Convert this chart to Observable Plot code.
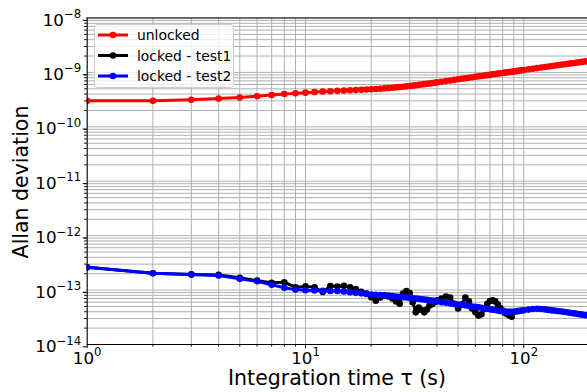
<!DOCTYPE html>
<html><head><meta charset="utf-8">
<script src="https://cdn.jsdelivr.net/npm/d3@7"></script>
<script src="https://cdn.jsdelivr.net/npm/@observablehq/plot@0.6"></script>
<style>
html,body{margin:0;padding:0;background:#fff;}
#chart{width:587px;height:392px;}
</style></head><body><div id="chart"></div>
<script>
// ---- data ----
const seriesNames = ["unlocked", "locked - test1", "locked - test2"];
const seriesColors = ["#ff0000", "#000000", "#0000ff"];

const tau = [1,2,3,4,5,6,7,8,9,10,11,12,13,14,15,16,17,18,19,20,21,22,23,24,25,26,27,28,29,30,31,32,33,34,35,36,37,38,39,40,
  42,44,46,48,50,52,54,56,58,60,62,64,66,68,70,72,74,76,78,80,82,84,86,88,90,92,94,96,98,100,
  105,110,115,120,125,130,135,140,145,150,155,160,165,170,175,180,185,190,195];

// unlocked, in units of 1e-10
const unlocked = [3.0,3.0,3.15,3.3,3.45,3.65,3.85,4.0,4.12,4.25,
  4.35,4.45,4.52,4.58,4.63,4.68,4.73,4.78,4.84,4.9,
  4.96,5.02,5.08,5.15,5.22,5.3,5.38,5.46,5.55,5.64,
  5.73,5.82,5.91,6.0,6.09,6.18,6.27,6.36,6.45,6.55,
  6.75,6.93,7.11,7.29,7.47,7.64,7.81,7.98,8.14,8.3,
  8.46,8.61,8.76,8.91,9.06,9.21,9.35,9.49,9.63,9.77,
  9.91,10.05,10.18,10.31,10.44,10.57,10.7,10.83,10.96,11.1,
  11.4,11.7,12.0,12.3,12.58,12.86,13.13,13.4,13.66,13.92,
  14.17,14.42,14.67,14.91,15.15,15.39,15.62,15.85,16.08];

// locked - test2, in units of 1e-14
const test2 = [26.2,20.4,19.3,18.5,16.1,14.5,12.5,11.0,10.2,9.9,
  9.8,9.7,9.6,9.6,9.4,9.1,8.9,8.7,8.5,8.3,
  8.2,8.1,8.0,7.9,7.75,7.6,7.5,7.4,7.3,7.2,
  7.1,7.0,6.9,6.8,6.7,6.6,6.5,6.4,6.3,6.2,
  6.0,5.85,5.7,5.55,5.45,5.35,5.25,5.1,5.0,4.92,
  4.85,4.75,4.65,4.55,4.45,4.37,4.3,4.22,4.15,4.08,
  4.02,3.98,3.97,3.98,4.0,4.05,4.1,4.15,4.2,4.25,
  4.38,4.48,4.52,4.5,4.42,4.32,4.23,4.15,4.08,4.02,
  3.95,3.88,3.8,3.73,3.66,3.6,3.54,3.48,3.43];

const tauTest1 = [1,2,3,4,5,6,7,8,9,10,11,12,13,14,15,16,17,18,19,20,21,22,23,24,25,26,27,28,29,30,31,32,33,34,35,36,37,38,39,40,
  42,44,46,48,50,52,54,56,58,60,62,64,66,68,70,72,74,76,78,80,82,84,86,88];

// locked - test1, in units of 1e-14
const test1 = [26.2,20.4,19.4,19.0,16.8,14.9,13.6,13.9,11.3,11.7,
  11.3,9.2,11.9,11.6,12.0,11.3,10.5,9.3,8.6,7.4,
  6.4,7.3,7.9,7.6,7.0,6.2,5.6,8.6,9.6,8.8,
  6.0,3.9,4.8,4.3,3.9,4.4,5.2,5.5,6.0,6.5,
  7.0,7.6,7.3,5.6,4.6,5.5,7.3,6.2,4.6,3.9,
  3.4,3.6,4.5,5.6,6.3,6.5,6.2,5.5,4.7,4.2,
  3.8,3.6,3.4,3.25];

const xTicks = [1, 10, 100];
const yTicks = [1e-14, 1e-13, 1e-12, 1e-11, 1e-10, 1e-9, 1e-8];
const xLabel = "Integration time τ (s)";
const yLabel = "Allan deviation";

// ---- build tables ----
const rowsUnlocked = tau.map((t, i) => ({tau: t, adev: unlocked[i] * 1e-10}));
const rowsTest2 = tau.map((t, i) => ({tau: t, adev: test2[i] * 1e-14}));
const rowsTest1 = tauTest1.map((t, i) => ({tau: t, adev: test1[i] * 1e-14}));

const xMinor = [];
for (let k = 0; k <= 2; k++) for (let m = 2; m <= 9; m++) { const v = m * 10 ** k; if (v <= 195) xMinor.push(v); }
const yMinor = [];
for (let k = -14; k <= -9; k++) for (let m = 2; m <= 9; m++) yMinor.push(m * 10 ** k);

const fmt = d => "10^" + Math.round(Math.log10(d));
const gridStyle = {stroke: "#b0b0b0", strokeWidth: 1, strokeOpacity: 1};

function series(rows, color) {
  return [
    Plot.line(rows, {x: "tau", y: "adev", stroke: color, strokeWidth: 3, clip: true}),
    Plot.dot(rows, {x: "tau", y: "adev", fill: color, r: 3.3, stroke: "none", clip: true})
  ];
}

const chart = Plot.plot({
  width: 587, height: 392,
  marginLeft: 86.7, marginRight: 0, marginTop: 17.5, marginBottom: 48,
  x: {type: "log", domain: [1, 195.8]},
  y: {type: "log", domain: [1e-14, 1e-8]},
  style: {fontFamily: "DejaVu Sans", fontSize: "16.7px", background: "white", color: "black"},
  marks: [
    Plot.ruleX(xMinor.concat(xTicks), gridStyle),
    Plot.ruleY(yMinor.concat(yTicks), gridStyle),
    ...series(rowsUnlocked, seriesColors[0]),
    ...series(rowsTest1, seriesColors[1]),
    ...series(rowsTest2, seriesColors[2]),
    Plot.ruleX([1], {stroke: "black", strokeWidth: 1}),
    Plot.ruleY([1e-14, 1e-8], {stroke: "black", strokeWidth: 1}),
    Plot.axisX(xTicks, {tickSize: 4, tickPadding: 3.4, tickFormat: fmt, fontSize: 16.7, label: null}),
    Plot.axisX(xMinor, {tickSize: 2.5, tickFormat: () => "", label: null}),
    Plot.axisY(yTicks, {tickSize: 4, tickPadding: 2, tickFormat: fmt, fontSize: 16.7, label: null, dy: 2.3}),
    Plot.axisY(yMinor, {tickSize: 2.5, tickFormat: () => "", label: null})
  ]
});

document.getElementById("chart").appendChild(chart);
const svg = d3.select(chart);

// superscript exponents on tick labels
svg.selectAll('g[aria-label="x-axis tick label"] text, g[aria-label="y-axis tick label"] text').each(function () {
  const m = /^10\^(-?\d+)$/.exec(this.textContent);
  if (!m) return;
  const el = d3.select(this);
  el.text("");
  el.append("tspan").text("10");
  el.append("tspan").attr("dy", -7.6).attr("font-size", "11.7px").text(m[1].replace("-", "\u2212"));
});

// axis titles
svg.append("text").attr("x", 337).attr("y", 385).attr("text-anchor", "middle")
  .attr("font-family", "DejaVu Sans").attr("font-size", 20.5).attr("fill", "black").text(xLabel);
svg.append("text").attr("transform", "translate(28.3,182) rotate(-90)").attr("text-anchor", "middle")
  .attr("font-family", "DejaVu Sans").attr("font-size", 20.5).attr("fill", "black").text(yLabel);

// legend
const lg = svg.append("g").attr("text-anchor", "start");
lg.append("rect").attr("x", 94.5).attr("y", 24.5).attr("width", 139).attr("height", 63).attr("rx", 3)
  .attr("fill", "white").attr("fill-opacity", 0.8).attr("stroke", "#cccccc").attr("stroke-width", 1);
seriesNames.forEach((name, i) => {
  const y = 35 + i * 20.5;
  lg.append("line").attr("x1", 98).attr("x2", 128).attr("y1", y).attr("y2", y)
    .attr("stroke", seriesColors[i]).attr("stroke-width", 3);
  lg.append("circle").attr("cx", 113).attr("cy", y).attr("r", 3.3).attr("fill", seriesColors[i]);
  lg.append("text").attr("x", 137).attr("y", y + 5).attr("text-anchor", "start").attr("font-family", "DejaVu Sans")
    .attr("font-size", 13.9).attr("fill", "black").text(name);
});
</script></body></html>
